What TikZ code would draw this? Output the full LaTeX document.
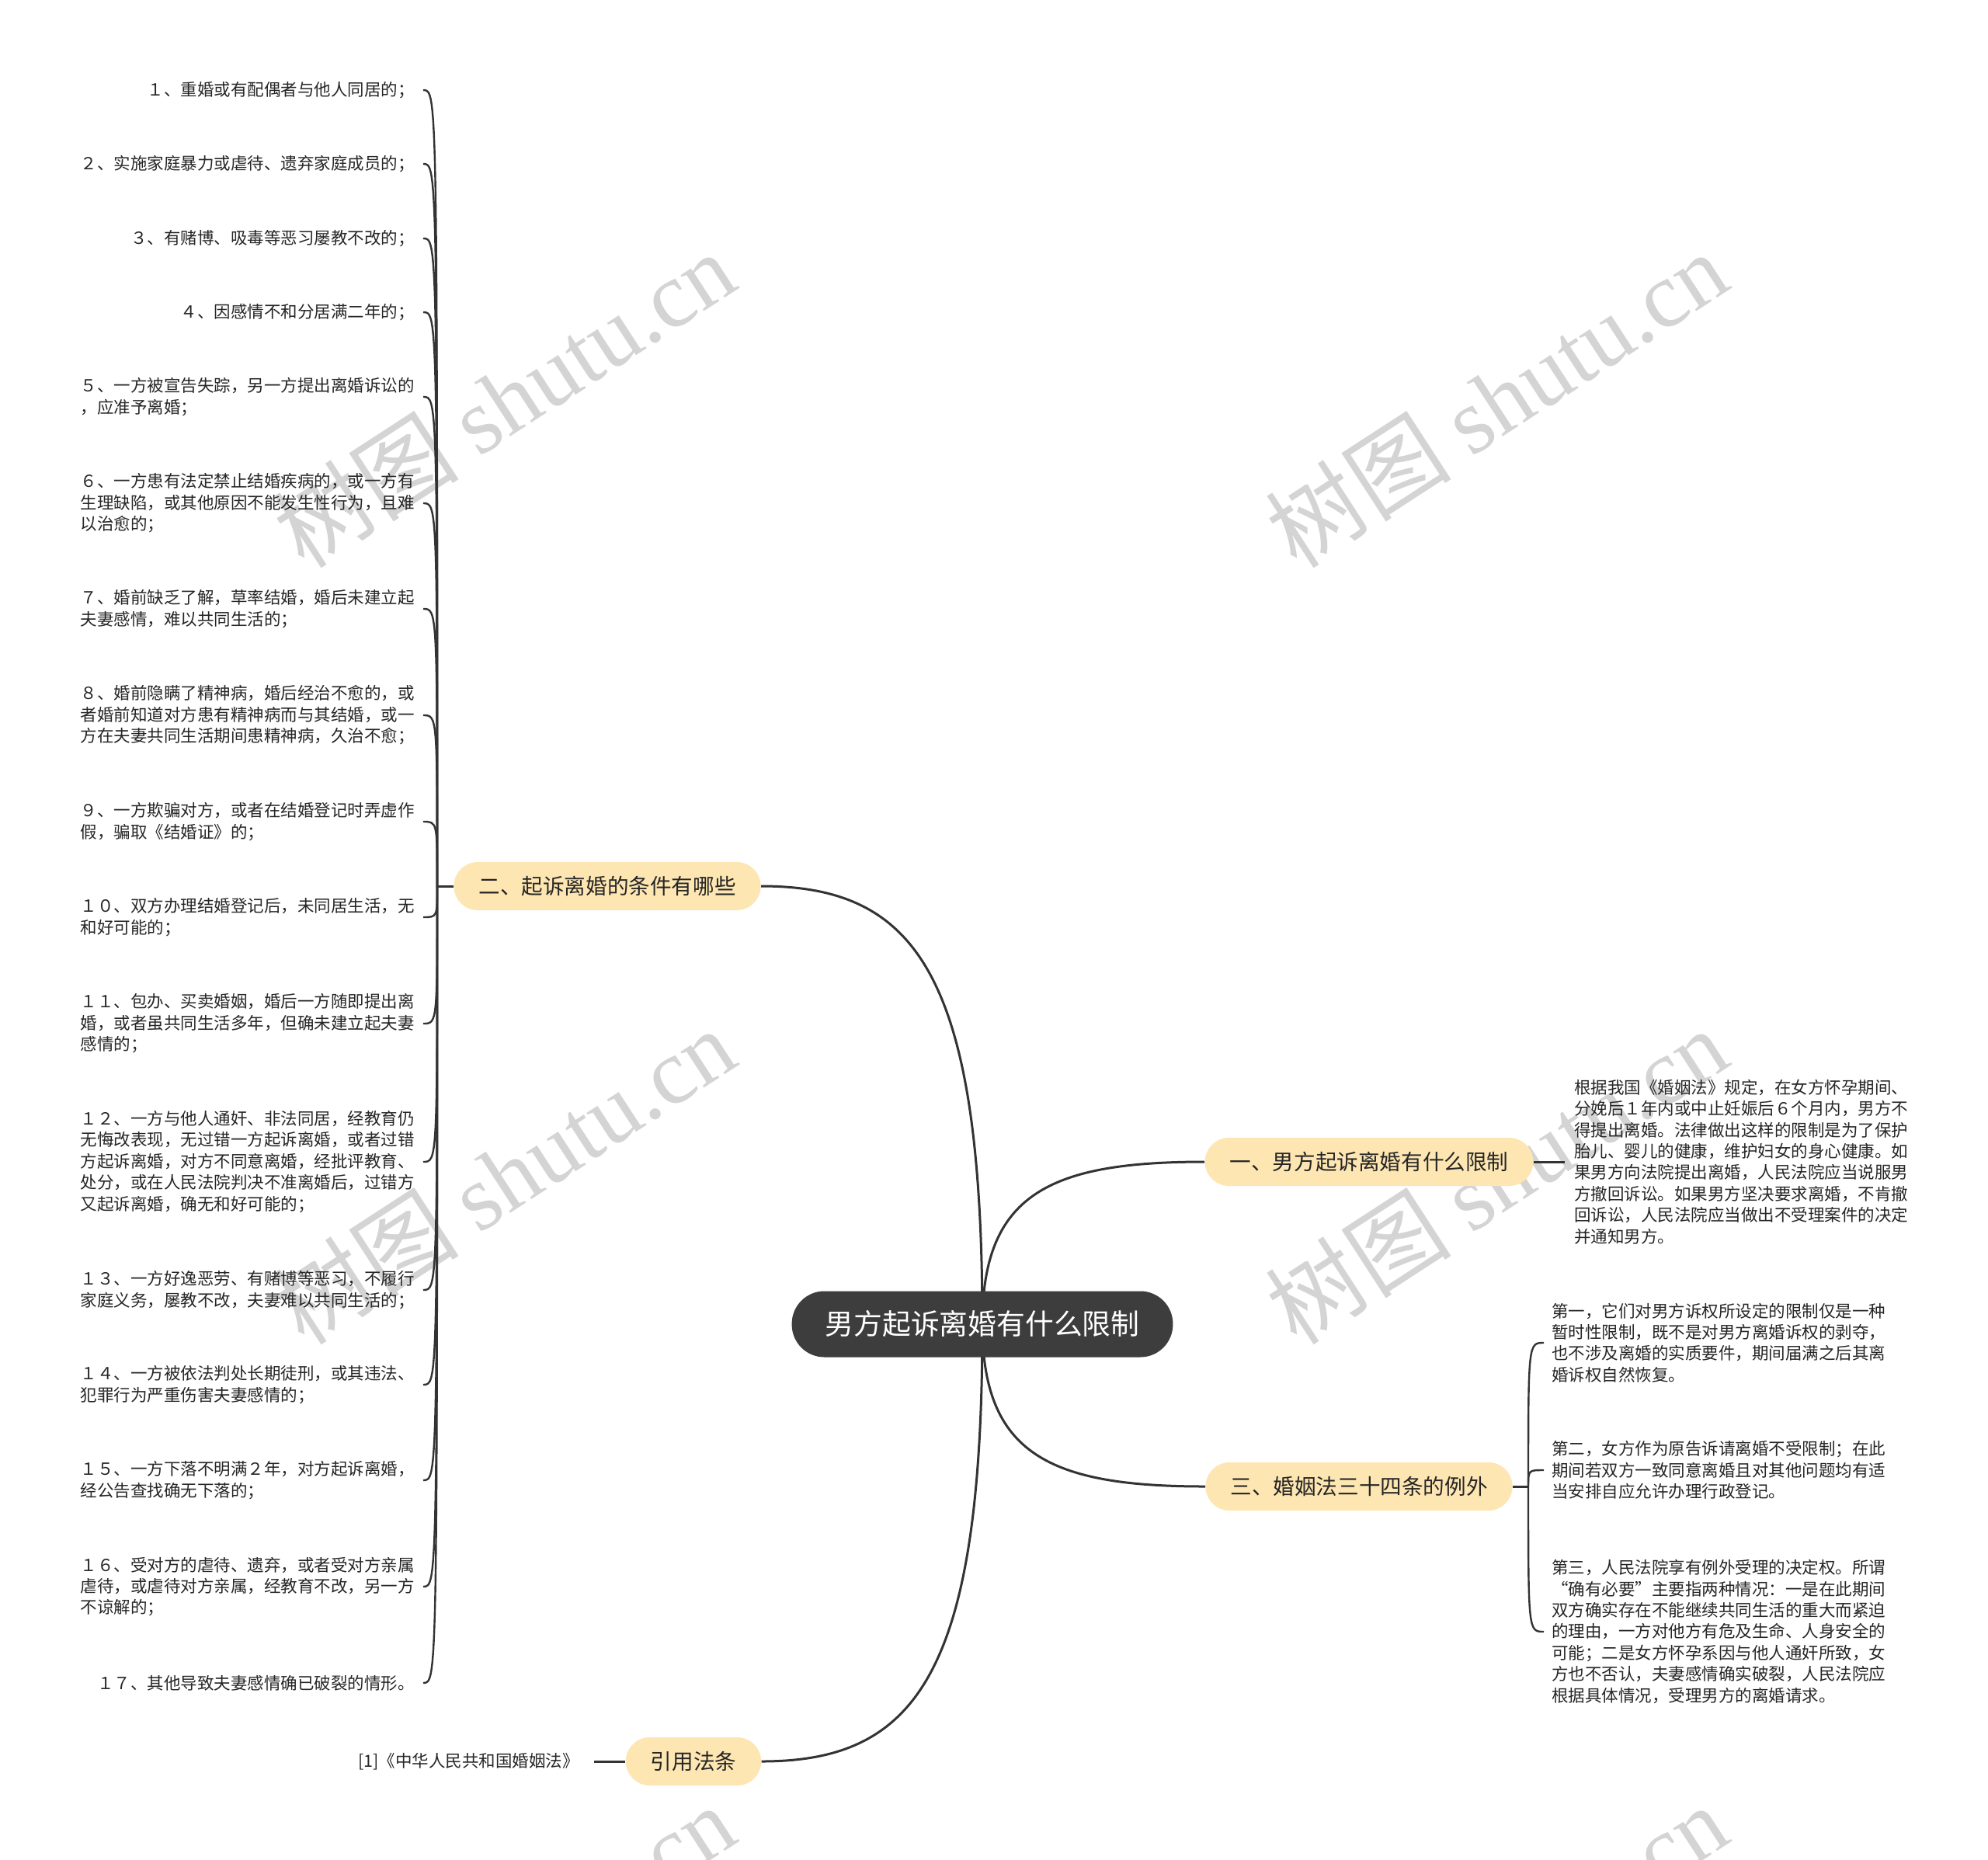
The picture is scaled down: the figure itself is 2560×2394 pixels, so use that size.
\documentclass[tikz,border=0pt]{standalone}
\usepackage{fontspec}
\setmainfont{Noto Sans CJK SC}
\newfontfamily\wmlatin{Liberation Serif}
\usetikzlibrary{calc,backgrounds}

\definecolor{rootfill}{HTML}{3D3D3D}
\definecolor{topicfill}{HTML}{FDE6B2}
\definecolor{linkcol}{HTML}{333333}
\definecolor{markgray}{HTML}{D4D4D4}

\tikzset{
  root/.style={fill=rootfill, text=white, rounded corners=21pt, minimum height=42.5pt,
    inner xsep=21.5pt, font=\fontsize{18.4pt}{22pt}\selectfont},
  topic/.style={fill=topicfill, text=black!85, rounded corners=15.5pt, minimum height=31pt,
    inner xsep=16pt, font=\fontsize{13.8pt}{16pt}\selectfont},
  leaf/.style={align=left, inner ysep=0pt, inner xsep=5.5pt, text=black!85,
    font=\fontsize{10.75pt}{13.7pt}\selectfont},
  mainlink/.style={draw=linkcol, line width=1.5pt},
  leaflink/.style={draw=linkcol, line width=1.2pt},
  watermark/.style={text=markgray, rotate=33, font=\fontsize{60pt}{62pt}\selectfont},
}

\begin{document}
\begin{tikzpicture}[x=0.5pt, y=-0.5pt]
    \useasboundingbox (0,0) rectangle (2560,2394);
    % root and topics
    \node[root] (root) at (1265,1705) {男方起诉离婚有什么限制};
    \node[topic] (b2) at (782,1141) {二、起诉离婚的条件有哪些};
    \node[topic] (b1) at (1763,1496) {一、男方起诉离婚有什么限制};
    \node[topic] (b3) at (1750,1914) {三、婚姻法三十四条的例外};
    \node[topic] (b4) at (893,2268) {引用法条};
    % left leaves
    \coordinate (j2) at (563,1141);
    \node[leaf, anchor=east] (l1) at (545,116) {１、重婚或有配偶者与他人同居的；};
    \node[leaf, anchor=east] (l2) at (545,211) {２、实施家庭暴力或虐待、遗弃家庭成员的；};
    \node[leaf, anchor=east] (l3) at (545,307) {３、有赌博、吸毒等恶习屡教不改的；};
    \node[leaf, anchor=east] (l4) at (545,402) {４、因感情不和分居满二年的；};
    \node[leaf, anchor=east] (l5) at (545,511) {５、一方被宣告失踪，另一方提出离婚诉讼的\\，应准予离婚；};
    \node[leaf, anchor=east] (l6) at (545,648) {６、一方患有法定禁止结婚疾病的，或一方有\\生理缺陷，或其他原因不能发生性行为，且难\\以治愈的；};
    \node[leaf, anchor=east] (l7) at (545,784) {７、婚前缺乏了解，草率结婚，婚后未建立起\\夫妻感情，难以共同生活的；};
    \node[leaf, anchor=east] (l8) at (545,921) {８、婚前隐瞒了精神病，婚后经治不愈的，或\\者婚前知道对方患有精神病而与其结婚，或一\\方在夫妻共同生活期间患精神病，久治不愈；};
    \node[leaf, anchor=east] (l9) at (545,1058) {９、一方欺骗对方，或者在结婚登记时弄虚作\\假，骗取《结婚证》的；};
    \node[leaf, anchor=east] (l10) at (545,1181) {１０、双方办理结婚登记后，未同居生活，无\\和好可能的；};
    \node[leaf, anchor=east] (l11) at (545,1318) {１１、包办、买卖婚姻，婚后一方随即提出离\\婚，或者虽共同生活多年，但确未建立起夫妻\\感情的；};
    \node[leaf, anchor=east] (l12) at (545,1496) {１２、一方与他人通奸、非法同居，经教育仍\\无悔改表现，无过错一方起诉离婚，或者过错\\方起诉离婚，对方不同意离婚，经批评教育、\\处分，或在人民法院判决不准离婚后，过错方\\又起诉离婚，确无和好可能的；};
    \node[leaf, anchor=east] (l13) at (545,1661) {１３、一方好逸恶劳、有赌博等恶习，不履行\\家庭义务，屡教不改，夫妻难以共同生活的；};
    \node[leaf, anchor=east] (l14) at (545,1783) {１４、一方被依法判处长期徒刑，或其违法、\\犯罪行为严重伤害夫妻感情的；};
    \node[leaf, anchor=east] (l15) at (545,1906) {１５、一方下落不明满２年，对方起诉离婚，\\经公告查找确无下落的；};
    \node[leaf, anchor=east] (l16) at (545,2043) {１６、受对方的虐待、遗弃，或者受对方亲属\\虐待，或虐待对方亲属，经教育不改，另一方\\不谅解的；};
    \node[leaf, anchor=east] (l17) at (545,2167) {１７、其他导致夫妻感情确已破裂的情形。};
    % right leaves
    \node[leaf, anchor=west, inner xsep=6pt] (r1) at (2015,1496) {根据我国《婚姻法》规定，在女方怀孕期间、\\分娩后１年内或中止妊娠后６个月内，男方不\\得提出离婚。法律做出这样的限制是为了保护\\胎儿、婴儿的健康，维护妇女的身心健康。如\\果男方向法院提出离婚，人民法院应当说服男\\方撤回诉讼。如果男方坚决要求离婚，不肯撤\\回诉讼，人民法院应当做出不受理案件的决定\\并通知男方。};
    \coordinate (j3) at (1968,1914);
    \node[leaf, anchor=west, inner xsep=5pt] (s1) at (1988,1729) {第一，它们对男方诉权所设定的限制仅是一种\\暂时性限制，既不是对男方离婚诉权的剥夺，\\也不涉及离婚的实质要件，期间届满之后其离\\婚诉权自然恢复。};
    \node[leaf, anchor=west, inner xsep=5pt] (s2) at (1988,1893) {第二，女方作为原告诉请离婚不受限制；在此\\期间若双方一致同意离婚且对其他问题均有适\\当安排自应允许办理行政登记。};
    \node[leaf, anchor=west, inner xsep=5pt] (s3) at (1988,2101) {第三，人民法院享有例外受理的决定权。所谓\\“确有必要”主要指两种情况：一是在此期间\\双方确实存在不能继续共同生活的重大而紧迫\\的理由，一方对他方有危及生命、人身安全的\\可能；二是女方怀孕系因与他人通奸所致，女\\方也不否认，夫妻感情确实破裂，人民法院应\\根据具体情况，受理男方的离婚请求。};
    % cited law
    \node[leaf, anchor=east, inner xsep=9.5pt] (c1) at (765,2268) {[1]《中华人民共和国婚姻法》};
    % links and marks behind
    \begin{scope}[on background layer]
        \fill[white] (0,0) rectangle (2560,2394);
        \foreach \mx in {649,1927}
            \foreach \my in {514,1514,2514}
                \node[watermark] at (\mx,\my) {树图 {\wmlatin shutu.cn}};
        \foreach \b/\a in {b2/east, b1/west, b3/west, b4/east}
            \draw[mainlink] (root.center) .. controls ($(root.center |- \b.\a)!0.2!(root.center)$)
                and ($(\b.\a)!0.7!(root.center |- \b.\a)$) .. (\b.\a);
        \draw[mainlink] (b2.west) -- (j2);
        \draw[mainlink] (b3.east) -- (j3);
        \draw[mainlink] (b1.east) -- (r1.west);
        \draw[mainlink] (b4.west) -- (c1.east);
        \foreach \i in {1,...,17}
            \draw[leaflink] (j2) .. controls (j2 |- l\i.east) .. (l\i.east);
        \foreach \i in {1,2,3}
            \draw[leaflink] (j3) .. controls (j3 |- s\i.west) .. (s\i.west);
    \end{scope}
\end{tikzpicture}
\end{document}
